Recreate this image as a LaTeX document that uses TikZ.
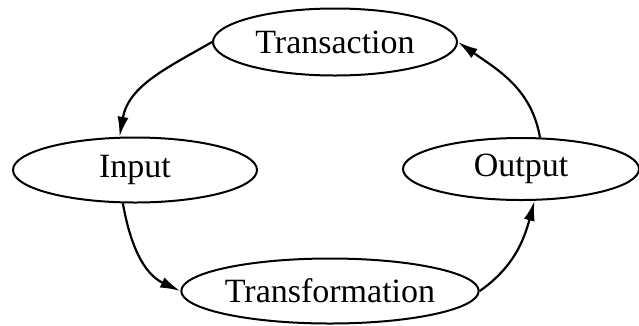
\documentclass[tikz,border=0pt]{standalone}
\usepackage{fontspec}
\setmainfont{Liberation Serif}
\usetikzlibrary{shapes.geometric,arrows.meta}
\begin{document}
\begin{tikzpicture}[x=1pt,y=1pt,
  stage/.style={ellipse,draw,line width=2pt,inner sep=0pt,
    minimum width=244pt,minimum height=65pt,
    font=\fontsize{34}{40}\selectfont},
  flow/.style={line width=2.2pt,-{Latex[length=20pt,width=11pt]}}]
  \useasboundingbox (0,0) rectangle (639,-325);
  \node[stage,minimum height=67pt] (trans) at (335,-42) {Transaction};
  \node[stage] (input) at (135,-170) {Input};
  \node[stage,minimum width=236pt,minimum height=62pt] (output) at (521,-169) {Output};
  \node[stage] (transf) at (330,-291) {Transformation};
  \draw[flow] (trans.west) to[out=210,in=80] (input.115);
  \draw[flow] (input.-110) to[out=-80,in=155] (transf.west);
  \draw[flow] (transf.east) to[out=35,in=-105] (output.-67);
  \draw[flow] (output.59) to[out=100,in=-35] (trans.east);
\end{tikzpicture}
\end{document}
